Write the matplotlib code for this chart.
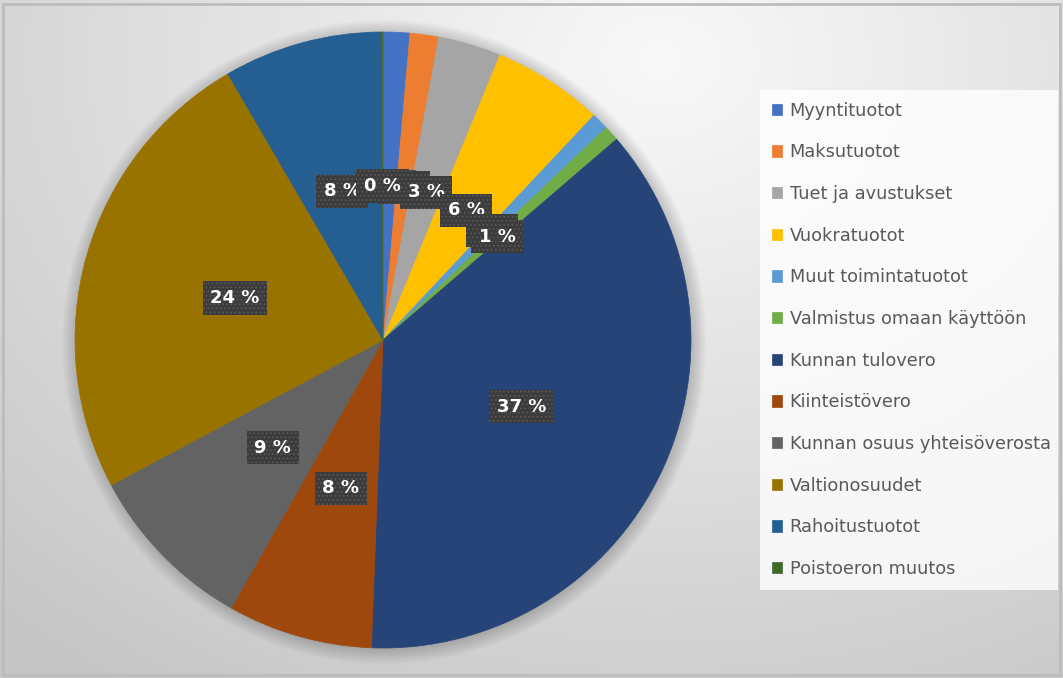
import numpy as np
import matplotlib
matplotlib.use("Agg")
import matplotlib.pyplot as plt

categories = ["Myyntituotot", "Maksutuotot", "Tuet ja avustukset", "Vuokratuotot",
              "Muut toimintatuotot", "Valmistus omaan käyttöön", "Kunnan tulovero",
              "Kiinteistövero", "Kunnan osuus yhteisöverosta", "Valtionosuudet",
              "Rahoitustuotot", "Poistoeron muutos"]
values = [1.4, 1.5, 3.3, 5.8, 0.9, 0.8, 36.9, 7.6, 9.0, 24.4, 8.3, 0.1]
colors = ["#4472C4", "#ED7D31", "#A5A5A5", "#FFC000", "#5B9BD5", "#70AD47",
          "#264478", "#9E480E", "#636363", "#997300", "#255E91", "#43682B"]

W, H = 1063, 678
fig = plt.figure(figsize=(W / 100, H / 100), dpi=100)
plt.rcParams['hatch.linewidth'] = 0.7

# background gradient
bg = fig.add_axes([0, 0, 1, 1])
yy, xx = np.mgrid[0:H, 0:W]
d = np.sqrt(((xx - 660) / 900.0) ** 2 + ((yy - 60) / 700.0) ** 2)
g = np.clip((249 - 47 * d) / 255.0, 0.78, 0.98)
bg.imshow(np.dstack([g, g, g]), extent=[0, W, H, 0], aspect='auto')
bg.set_xlim(0, W)
bg.set_ylim(H, 0)
bg.add_patch(plt.Rectangle((3, 4), W - 6, H - 7, fill=False, ec="#bcbcbc", lw=2))
bg.axis('off')

cx, cy, R = 383, 340, 308
half = 330
ax = fig.add_axes([(cx - half) / W, (H - cy - half) / H, 2 * half / W, 2 * half / H])
lim = half / R

# soft shadow behind the pie
for r in np.linspace(1.045, 1.0, 10):
    ax.add_patch(plt.Circle((0.004, -0.006), r, color="black", alpha=0.018, lw=0, zorder=0))

wedges, texts, autotexts = ax.pie(
    values, colors=colors, startangle=90, counterclock=False,
    autopct=lambda p: f"{p:.0f} %", pctdistance=0.5,
    wedgeprops=dict(linewidth=0.5, zorder=1),
    textprops=dict(color="white", fontsize=13, fontweight="bold", family="DejaVu Sans"))
for w in wedges:
    w.set_edgecolor(w.get_facecolor())
for i, t in enumerate(autotexts):
    t.set_zorder(10 + i)
    t.set_bbox(dict(boxstyle="square,pad=0.42", fc="#3c3c3c", ec="#5a5a5a", lw=0, hatch="...."))
ax.set_xlim(-lim, lim)
ax.set_ylim(-lim, lim)
ax.set_aspect('equal')
ax.axis('off')

leg = fig.legend(wedges, categories, loc="upper left",
                 bbox_to_anchor=(760 / W, 1 - 90 / H, 298 / W, 0.0), mode="expand",
                 frameon=True,
                 fontsize=12.8, labelspacing=1.33, handlelength=0.6, handleheight=0.6,
                 handletextpad=0.4, borderpad=0.66, borderaxespad=0)
leg.get_frame().set_facecolor((1, 1, 1, 0.4))
leg.get_frame().set_edgecolor("none")
leg.get_frame().set_boxstyle("square,pad=0")
for t in leg.get_texts():
    t.set_color("#595959")

fig.savefig("out.png", dpi=100)
